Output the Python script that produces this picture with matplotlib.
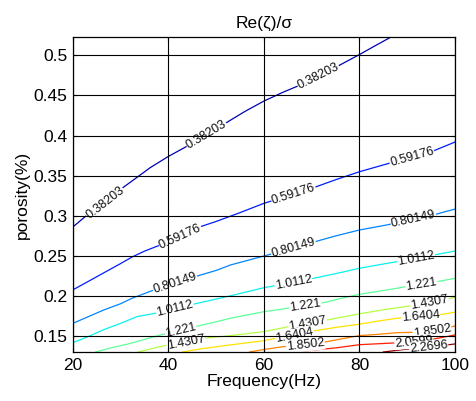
import matplotlib
matplotlib.use("Agg")
import matplotlib.pyplot as plt
import numpy as np

plt.rcParams["font.family"] = ["Liberation Sans", "DejaVu Sans"]

# contour levels of Re(zeta)/sigma
levels = [0.38203, 0.59176, 0.80149, 1.0112, 1.221, 1.4307, 1.6404, 1.8502, 2.0599, 2.2696]

# each contour as (frequency Hz, porosity) points
freq_0 = [20, 23, 26.8, 30, 33, 36.2, 40, 44.6, 48, 52.4, 56, 60, 64, 67.6, 71.4, 75.3, 80, 83, 86.5]
por_0 = [0.286, 0.301, 0.316, 0.333, 0.346, 0.360, 0.374, 0.389, 0.401, 0.417, 0.430, 0.443,
         0.454, 0.463, 0.474, 0.486, 0.501, 0.511, 0.5225]
freq_1 = [20, 23, 27.1, 30, 32.5, 35, 38.3, 42.5, 46.7, 50, 55, 60, 66.2, 70.8, 75, 80, 86.8, 91, 95.5, 100]
por_1 = [0.2077, 0.2175, 0.231, 0.2405, 0.249, 0.256, 0.2637, 0.274, 0.2865, 0.293, 0.304, 0.3156,
         0.327, 0.336, 0.345, 0.355, 0.3665, 0.373, 0.381, 0.392]
freq_2 = [20, 26.4, 30, 32.4, 37, 41.4, 45.6, 50, 53, 60, 65, 70.8, 75, 80, 86, 91.3, 96, 100]
por_2 = [0.166, 0.1825, 0.1905, 0.1973, 0.2077, 0.216, 0.2243, 0.232, 0.2388, 0.250, 0.258,
         0.268, 0.275, 0.2824, 0.289, 0.296, 0.302, 0.3085]
freq_3 = [20, 23, 26.4, 30, 33.4, 37.6, 41.4, 45.3, 49, 53.7, 60, 66.2, 70.4, 75, 80, 84, 87.8, 91.9, 95.6, 100]
por_3 = [0.142, 0.149, 0.158, 0.166, 0.1744, 0.179, 0.1845, 0.190, 0.195, 0.2014, 0.2105, 0.217,
         0.2222, 0.228, 0.2347, 0.239, 0.2429, 0.247, 0.2513, 0.2562]
freq_4 = [24.8, 28, 32, 35, 38.3, 42.6, 45.6, 50, 53, 56, 60, 64, 68.7, 72.9, 76, 80, 85, 90, 93, 96.2, 100]
por_4 = [0.1304, 0.1355, 0.141, 0.146, 0.1516, 0.1577, 0.162, 0.168, 0.1724, 0.176, 0.1806, 0.184,
         0.1885, 0.1923, 0.197, 0.2023, 0.207, 0.212, 0.215, 0.218, 0.2222]
freq_5 = [33.7, 36.5, 39.7, 43.7, 47.3, 53, 60, 65.2, 69.2, 73.2, 80, 85, 90.8, 94.7, 97.9, 100]
por_5 = [0.1304, 0.1345, 0.139, 0.142, 0.1475, 0.1508, 0.1558, 0.162, 0.166, 0.1703, 0.178,
         0.183, 0.188, 0.192, 0.1955, 0.1986]
freq_6 = [43, 47, 52, 56, 60, 63, 66.4, 70.4, 75, 80, 84, 87.8, 92.8, 97.5, 100]
por_6 = [0.1304, 0.1345, 0.1385, 0.1415, 0.1445, 0.148, 0.1515, 0.1566, 0.161, 0.165, 0.169,
         0.1724, 0.175, 0.1774, 0.180]
freq_7 = [57, 60, 64, 68.7, 72.5, 76, 80, 84, 88, 92, 95.2, 100]
por_7 = [0.1304, 0.1335, 0.137, 0.139, 0.1425, 0.1465, 0.1508, 0.1525, 0.1545, 0.155, 0.157, 0.1628]
freq_8 = [66, 70, 75, 80, 85, 91.4, 95, 100]
por_8 = [0.1304, 0.1325, 0.1355, 0.1395, 0.141, 0.143, 0.146, 0.1516]
freq_9 = [85, 90, 94.5, 100]
por_9 = [0.1304, 0.134, 0.1365, 0.1404]

# frequencies where each contour carries its inline label
label_freq = [[26.8, 48, 71.4], [42.5, 66.2, 91], [41.4, 66.2, 91.3], [41.4, 66.2, 91.9],
              [42.6, 68.7, 93], [43.7, 69.2, 94.7], [66.4, 92.8], [68.7, 95.2], [91.4], [94.5]]

freqs = [freq_0, freq_1, freq_2, freq_3, freq_4, freq_5, freq_6, freq_7, freq_8, freq_9]
pors = [por_0, por_1, por_2, por_3, por_4, por_5, por_6, por_7, por_8, por_9]

fig = plt.figure(figsize=(4.77, 4.01), dpi=100)
ax = fig.add_axes([72.7 / 477, 1 - 352 / 401, (455 - 72.7) / 477, (352 - 37.3) / 401])
ax.set_xlim(20, 100)
ax.set_ylim(0.1304, 0.5225)

colors = plt.cm.jet(np.linspace(0.05, 0.98, len(levels)))

for lev, f, p, lf, c in zip(levels, freqs, pors, label_freq, colors):
    ax.plot(f, p, color=c, lw=0.9, zorder=2)
    for x0 in lf:
        y0 = np.interp(x0, f, p)
        xs = np.array([x0 - 2, x0 + 2])
        pts = ax.transData.transform(np.column_stack([xs, np.interp(xs, f, p)]))
        d = pts[1] - pts[0]
        ang = np.degrees(np.arctan2(d[1], d[0]))
        ax.text(x0, y0, f"{lev:.5g}", fontsize=9, rotation=ang, rotation_mode="anchor",
                ha="center", va="center", zorder=2.2, color="#111111",
                bbox=dict(fc="white", ec="none", pad=0.4))

ax.set_xticks([20, 40, 60, 80, 100])
ax.set_yticks([0.15, 0.2, 0.25, 0.3, 0.35, 0.4, 0.45, 0.5])
ax.set_yticklabels(["0.15", "0.2", "0.25", "0.3", "0.35", "0.4", "0.45", "0.5"])
ax.tick_params(direction="in", length=3, labelsize=12.5, top=True, right=True, pad=4)
ax.grid(True, color="black", lw=0.8)
ax.set_axisbelow(False)
for s in ax.spines.values():
    s.set_linewidth(0.9)

ax.set_xlabel("Frequency(Hz)", fontsize=12.5, labelpad=1)
ax.set_ylabel("porosity(%)", fontsize=12.5, labelpad=2)
ax.set_title("Re(ζ)/σ", fontsize=12.5, pad=7)

fig.savefig("out.png", dpi=100)
